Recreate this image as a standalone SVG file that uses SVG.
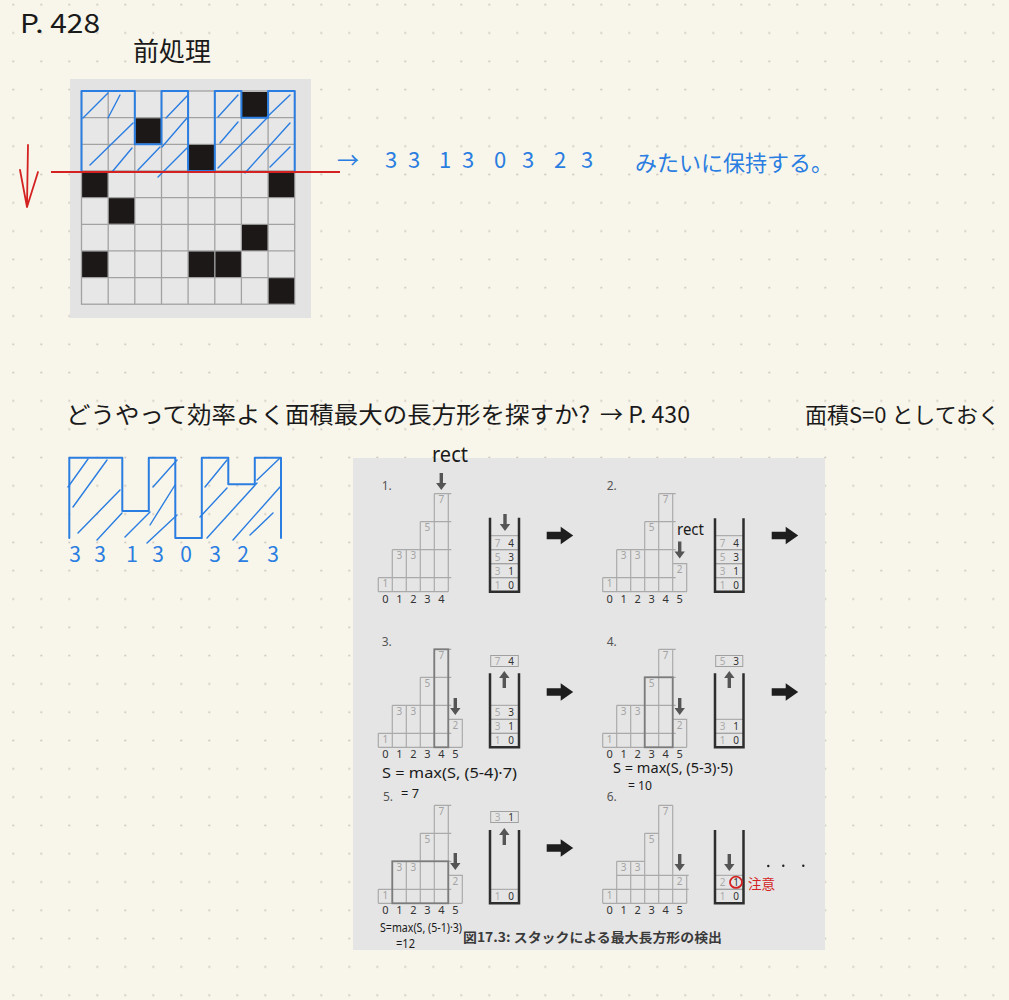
<svg xmlns="http://www.w3.org/2000/svg" width="1009" height="1000" viewBox="0 0 1009 1000">
<style>
.hw{font-family:"Noto Sans CJK JP","Noto Sans",sans-serif;fill:#1a1a1a}
.fm{font-family:"Noto Sans","Liberation Sans",sans-serif;fill:#1a1a1a}
.bl{font-family:"Noto Sans CJK JP","Noto Sans",sans-serif;fill:#2a7de1}
.blue{stroke:#2a7de1;stroke-width:2;fill:none;stroke-linecap:round;stroke-linejoin:round}
.hatch{stroke:#2a7de1;stroke-width:1.4;fill:none;stroke-linecap:round}
.gcell{fill:#e7e7e7;stroke:#a2a2a2;stroke-width:1.3}
.blk{fill:#1c1818}
.bar{stroke:#aaaaaa;stroke-width:1.2;fill:none}
.hl{stroke:#7c7c7c;stroke-width:1.8;fill:none}
.bn{font-family:"Noto Sans","Liberation Sans",sans-serif;font-size:10px;fill:#a3a3a3;text-anchor:middle}
.ax{font-family:"Noto Sans","Liberation Sans",sans-serif;font-size:11px;fill:#333;text-anchor:middle}
.pl{font-family:"Noto Sans","Liberation Sans",sans-serif;font-size:12px;fill:#555}
.cell{stroke:#a0a0a0;stroke-width:1;fill:none}
.cont{stroke:#2e2e2e;stroke-width:2.5;fill:none}
.sl{font-family:"Noto Sans","Liberation Sans",sans-serif;font-size:10px;fill:#aaaaaa;text-anchor:middle}
.sr{font-family:"Noto Sans","Liberation Sans",sans-serif;font-size:10px;fill:#333;text-anchor:middle}
.red{stroke:#d42222;stroke-width:1.8;fill:none;stroke-linecap:round;stroke-linejoin:round}
</style>
<defs>
<pattern id="dots" patternUnits="userSpaceOnUse" x="-0.7" y="18.85" width="28" height="28.3">
<circle cx="14" cy="14.15" r="1" fill="#c9c5ba"/>
</pattern>
<path id="darr" d="M-1.7,0 H1.7 V10 H5.2 L0,17 L-5.2,10 H-1.7 Z" fill="#555"/>
<path id="bigarr" d="M0,-3.8 H14 V-8.8 L26.5,0 L14,8.8 V3.8 H0 Z" fill="#1e1e1e"/>
<path id="hist5" d="M0,0 H70 M0,-14 H73 M14,-42 H73 M42,-70 H73 M56,-98 H73 M0,0 V-14 M14,0 V-42 M28,0 V-42 M42,0 V-70 M56,0 V-98 M70,0 V-98"/>
<path id="hist6" d="M0,0 H84 M0,-14 H73 M14,-42 H73 M42,-70 H73 M56,-98 H73 M0,0 V-14 M14,0 V-42 M28,0 V-42 M42,0 V-70 M56,0 V-98 M70,0 V-98 M70,-28 H84 V0"/>
<path id="hist6b" d="M0,0 H84 M0,-14 H86 M14,-28 H86 M14,-42 H42 M42,-70 H56 M56,-98 H70 M0,0 V-14 M14,0 V-42 M28,0 V-42 M42,0 V-70 M56,0 V-98 M70,0 V-98 M84,0 V-28"/>
<g id="blabels">
<text class="bn" x="7" y="-4.5">1</text><text class="bn" x="21" y="-32.5">3</text><text class="bn" x="35" y="-32.5">3</text><text class="bn" x="49" y="-60.5">5</text><text class="bn" x="63" y="-88.5">7</text>
</g>
<g id="ax5"><text class="ax" x="7" y="11">0</text><text class="ax" x="21" y="11">1</text><text class="ax" x="35" y="11">2</text><text class="ax" x="49" y="11">3</text><text class="ax" x="63" y="11">4</text></g>
<g id="ax6"><use href="#ax5"/><text class="ax" x="77" y="11">5</text></g>
</defs>

<rect id="page" x="0" y="0" width="1009" height="1000" fill="#f8f5ea"/>
<rect id="dotgrid" x="0" y="0" width="1009" height="1000" fill="url(#dots)"/>

<g id="title">
<text class="hw" x="20" y="33" font-size="26" textLength="80" lengthAdjust="spacingAndGlyphs">P. 428</text>
<text class="hw" x="133" y="61" font-size="26" textLength="78" lengthAdjust="spacingAndGlyphs">前処理</text>
</g>

<g id="grid-panel">
<rect x="70" y="79" width="241" height="239" fill="#e3e3e3"/>
<g id="cells">
<rect class="gcell" x="81.5" y="91" width="213.2" height="213.2"/>
<path stroke="#a2a2a2" stroke-width="1.3" fill="none" d="M108.2,91 V304.2 M134.8,91 V304.2 M161.5,91 V304.2 M188.1,91 V304.2 M214.8,91 V304.2 M241.4,91 V304.2 M268.1,91 V304.2 M81.5,117.65 H294.7 M81.5,144.3 H294.7 M81.5,171 H294.7 M81.5,197.6 H294.7 M81.5,224.3 H294.7 M81.5,250.9 H294.7 M81.5,277.6 H294.7"/>
</g>
<g id="black-cells">
<rect class="blk" x="242" y="92" width="25.5" height="25"/>
<rect class="blk" x="135.4" y="118.3" width="25.5" height="25.4"/>
<rect class="blk" x="188.7" y="144.9" width="25.5" height="25.5"/>
<rect class="blk" x="82.1" y="171.6" width="25.5" height="25.5"/>
<rect class="blk" x="268.7" y="171.6" width="25.5" height="25.5"/>
<rect class="blk" x="108.8" y="198.2" width="25.5" height="25.5"/>
<rect class="blk" x="242" y="224.9" width="25.5" height="25.5"/>
<rect class="blk" x="82.1" y="251.5" width="25.5" height="25.5"/>
<rect class="blk" x="188.7" y="251.5" width="25.5" height="25.5"/>
<rect class="blk" x="215.4" y="251.5" width="25.5" height="25.5"/>
<rect class="blk" x="268.7" y="278.2" width="25.5" height="25.5"/>
</g>
<g id="skyline-top">
<path class="blue" d="M81.5,171 V91 H134.8 V144.3 H161.5 V91 H188.1 V171 H214.8 V91 H241.4 V117.65 H268.1 V91 H294.7 V171"/>
<path class="hatch" d="M83,118 L108,93 M90,165 L133,123 M108,118 L120,95 M112,172 L132,148 M138,170 L160,147 M166,118 L188,95 M162,147 L187,118 M158,177 L187,148 M218,117 L238,95 M220,143 L238,122 M218,168 L267,118 M245,173 L290,123 M270,167 L290,147 M267,117 L290,95"/>
</g>
<line x1="51" y1="172" x2="340" y2="172" stroke="#d42222" stroke-width="2"/>
</g>

<g id="blue-note">
<text class="bl" font-size="22"><tspan x="337" y="168">→</tspan><tspan x="391" y="168" text-anchor="middle">3</tspan><tspan x="414" y="168" text-anchor="middle">3</tspan><tspan x="445" y="168" text-anchor="middle">1</tspan><tspan x="468" y="168" text-anchor="middle">3</tspan><tspan x="500" y="168" text-anchor="middle">0</tspan><tspan x="528" y="168" text-anchor="middle">3</tspan><tspan x="560" y="168" text-anchor="middle">2</tspan><tspan x="587" y="168" text-anchor="middle">3</tspan></text>
<text class="bl" x="635" y="171" font-size="22" textLength="198" lengthAdjust="spacingAndGlyphs">みたいに保持する。</text>
</g>

<g id="question">
<text class="hw" x="66" y="423" font-size="23" textLength="524" lengthAdjust="spacingAndGlyphs">どうやって効率よく面積最大の長方形を探すか?</text>
<text class="hw" x="600" y="423" font-size="23" textLength="90" lengthAdjust="spacingAndGlyphs">→ P. 430</text>
<text class="hw" x="805" y="423" font-size="22" textLength="195" lengthAdjust="spacingAndGlyphs">面積S=0 としておく</text>
</g>

<g id="histogram-blue">
<path class="blue" d="M69.3,538 V457.7 H122.3 V511 H148.8 V457.7 H175.3 V538 H201.8 V457.7 H228.3 V484.3 H254.8 V457.7 H281 V538"/>
<path class="hatch" d="M68,487 L88,459 M73,507 L107,460 M78,533 L120,490 M97,540 L122,513 M125,537 L150,512 M153,487 L177,460 M150,525 L175,485 M147,543 L177,515 M205,487 L227,460 M200,517 L227,488 M207,538 L257,483 M233,540 L280,487 M250,535 L273,513 M257,480 L280,458"/>
<text class="bl" font-size="21"><tspan x="75" y="562" text-anchor="middle">3</tspan><tspan x="100" y="562" text-anchor="middle">3</tspan><tspan x="132" y="562" text-anchor="middle">1</tspan><tspan x="158" y="562" text-anchor="middle">3</tspan><tspan x="186" y="562" text-anchor="middle">0</tspan><tspan x="215" y="562" text-anchor="middle">3</tspan><tspan x="243" y="562" text-anchor="middle">2</tspan><tspan x="273" y="562" text-anchor="middle">3</tspan></text>
</g>

<g id="figure">
<rect x="353" y="458" width="472" height="492" fill="#e5e5e5"/>

<g id="panel1">
<text class="pl" x="381.7" y="490">1.</text>
<g transform="translate(378.3,591.7)"><use href="#hist5" class="bar"/><use href="#blabels"/><use href="#ax5"/></g>
<rect class="cell" x="490" y="535.7" width="29" height="14"/><rect class="cell" x="490" y="549.7" width="29" height="14"/><rect class="cell" x="490" y="563.7" width="29" height="14"/><rect class="cell" x="490" y="577.7" width="29" height="14"/>
<text class="sl" x="497.7" y="546.5">7</text><text class="sr" x="511" y="546.5">4</text>
<text class="sl" x="497.7" y="560.5">5</text><text class="sr" x="511" y="560.5">3</text>
<text class="sl" x="497.7" y="574.5">3</text><text class="sr" x="511" y="574.5">1</text>
<text class="sl" x="497.7" y="588.5">1</text><text class="sr" x="511" y="588.5">0</text>
<path class="cont" d="M490,517.7 V591.7 H519 V517.7"/>
<text class="fm" x="432" y="462" font-size="21" textLength="36" lengthAdjust="spacingAndGlyphs">rect</text>
</g>

<g id="panel2">
<text class="pl" x="606.7" y="490">2.</text>
<g transform="translate(602.7,591.7)"><use href="#hist6" class="bar"/><use href="#blabels"/><text class="bn" x="77" y="-18.5">2</text><use href="#ax6"/></g>
<rect class="cell" x="715" y="535.7" width="28.5" height="14"/><rect class="cell" x="715" y="549.7" width="28.5" height="14"/><rect class="cell" x="715" y="563.7" width="28.5" height="14"/><rect class="cell" x="715" y="577.7" width="28.5" height="14"/>
<text class="sl" x="722.5" y="546.5">7</text><text class="sr" x="736" y="546.5">4</text>
<text class="sl" x="722.5" y="560.5">5</text><text class="sr" x="736" y="560.5">3</text>
<text class="sl" x="722.5" y="574.5">3</text><text class="sr" x="736" y="574.5">1</text>
<text class="sl" x="722.5" y="588.5">1</text><text class="sr" x="736" y="588.5">0</text>
<path class="cont" d="M715,518.3 V591.7 H743.5 V518.3"/>
<text class="fm" x="677" y="535" font-size="16" textLength="27" lengthAdjust="spacingAndGlyphs">rect</text>
</g>

<g id="panel3">
<text class="pl" x="381.7" y="645.5">3.</text>
<g transform="translate(378.3,747.3)"><use href="#hist6" class="bar"/><use href="#blabels"/><text class="bn" x="77" y="-18.5">2</text><use href="#ax6"/></g>
<rect class="hl" x="434.3" y="649.3" width="14" height="98"/>
<rect class="cell" x="490.7" y="655.5" width="27.6" height="11"/>
<text class="sl" x="497.7" y="664.5">7</text><text class="sr" x="511" y="664.5">4</text>
<rect class="cell" x="490" y="705.3" width="29" height="14"/><rect class="cell" x="490" y="719.3" width="29" height="14"/><rect class="cell" x="490" y="733.3" width="29" height="14"/>
<text class="sl" x="497.7" y="716">5</text><text class="sr" x="511" y="716">3</text>
<text class="sl" x="497.7" y="730">3</text><text class="sr" x="511" y="730">1</text>
<text class="sl" x="497.7" y="744">1</text><text class="sr" x="511" y="744">0</text>
<path class="cont" d="M490,673.3 V747.3 H519 V673.3"/>
<text class="fm" x="382" y="778" font-size="15" textLength="135" lengthAdjust="spacingAndGlyphs">S = max(S, (5-4)·7)</text>
<text class="fm" x="401" y="798" font-size="13" textLength="18" lengthAdjust="spacingAndGlyphs">= 7</text>
</g>

<g id="panel4">
<text class="pl" x="606.7" y="645.5">4.</text>
<g transform="translate(602.7,747.3)"><use href="#hist6" class="bar"/><use href="#blabels"/><text class="bn" x="77" y="-18.5">2</text><use href="#ax6"/></g>
<rect class="hl" x="644.7" y="677.3" width="28" height="70"/>
<rect class="cell" x="715.7" y="655.5" width="27.1" height="11"/>
<text class="sl" x="722.5" y="664.5">5</text><text class="sr" x="736" y="664.5">3</text>
<rect class="cell" x="715" y="719.3" width="28.5" height="14"/><rect class="cell" x="715" y="733.3" width="28.5" height="14"/>
<text class="sl" x="722.5" y="730">3</text><text class="sr" x="736" y="730">1</text>
<text class="sl" x="722.5" y="744">1</text><text class="sr" x="736" y="744">0</text>
<path class="cont" d="M715,673.3 V747.3 H743.5 V673.3"/>
<text class="fm" x="613" y="773" font-size="14" textLength="120" lengthAdjust="spacingAndGlyphs">S = max(S, (5-3)·5)</text>
<text class="fm" x="628" y="790" font-size="12" textLength="24" lengthAdjust="spacingAndGlyphs">= 10</text>
</g>

<g id="panel5">
<text class="pl" x="383" y="801">5.</text>
<g transform="translate(378.3,903.3)"><use href="#hist6" class="bar"/><use href="#blabels"/><text class="bn" x="77" y="-18.5">2</text><use href="#ax6"/></g>
<rect class="hl" x="392.3" y="861.3" width="56" height="42"/>
<rect class="cell" x="490.7" y="811.5" width="27.6" height="11"/>
<text class="sl" x="497.7" y="820.5">3</text><text class="sr" x="511" y="820.5">1</text>
<rect class="cell" x="490" y="889.3" width="29" height="14"/>
<text class="sl" x="497.7" y="900">1</text><text class="sr" x="511" y="900">0</text>
<path class="cont" d="M490,830 V903.3 H519 V830"/>
<text class="fm" x="380" y="932" font-size="12" textLength="82" lengthAdjust="spacingAndGlyphs">S=max(S, (5-1)·3)</text>
<text class="fm" x="396" y="948" font-size="12" textLength="19" lengthAdjust="spacingAndGlyphs">=12</text>
</g>

<g id="panel6">
<text class="pl" x="606.7" y="801">6.</text>
<g transform="translate(602.7,903.3)"><use href="#hist6b" class="bar"/><use href="#blabels"/><text class="bn" x="77" y="-18.5">2</text><use href="#ax6"/></g>
<rect class="cell" x="715" y="875.3" width="28.5" height="14"/><rect class="cell" x="715" y="889.3" width="28.5" height="14"/>
<text class="sl" x="722.5" y="886">2</text><text class="sr" x="736" y="886">1</text>
<text class="sl" x="722.5" y="900">1</text><text class="sr" x="736" y="900">0</text>
<path class="cont" d="M715,830 V903.3 H743.5 V830"/>
<ellipse cx="736" cy="882.3" rx="6" ry="5.6" class="red" stroke-width="1.4"/>
<text x="748" y="889" font-size="14" fill="#d42222" font-family="Noto Sans CJK JP, sans-serif" textLength="27" lengthAdjust="spacingAndGlyphs">注意</text>
<circle cx="768.3" cy="866" r="1.2" fill="#222"/><circle cx="783.3" cy="865.7" r="1.2" fill="#222"/><circle cx="803.3" cy="865.7" r="1.2" fill="#222"/>
</g>

<text id="caption" x="463" y="942" font-size="13" font-weight="bold" fill="#3a3a3a" font-family="Noto Sans CJK JP, sans-serif" textLength="259" lengthAdjust="spacingAndGlyphs">図17.3: スタックによる最大長方形の検出</text>
</g>

<g id="connectors">
<path class="red" d="M28,145 L27,205 M20,170 L27,207 L38,172"/>
<use href="#darr" transform="translate(441.3,473)"/>
<use href="#darr" transform="translate(505,514)"/>
<use href="#darr" transform="translate(679.7,541.5)"/>
<use href="#darr" transform="translate(455.3,698)"/>
<use href="#darr" transform="translate(504.3,688) rotate(180)"/>
<use href="#darr" transform="translate(679.7,698)"/>
<use href="#darr" transform="translate(729.3,688) rotate(180)"/>
<use href="#darr" transform="translate(455.3,853)"/>
<use href="#darr" transform="translate(504.3,845) rotate(180)"/>
<use href="#darr" transform="translate(679.7,854)"/>
<use href="#darr" transform="translate(729.3,854)"/>
<use href="#bigarr" transform="translate(546.7,535.5)"/>
<use href="#bigarr" transform="translate(771.7,535.5)"/>
<use href="#bigarr" transform="translate(546.7,692)"/>
<use href="#bigarr" transform="translate(771.7,692)"/>
<use href="#bigarr" transform="translate(546.7,848)"/>
</g>
</svg>
